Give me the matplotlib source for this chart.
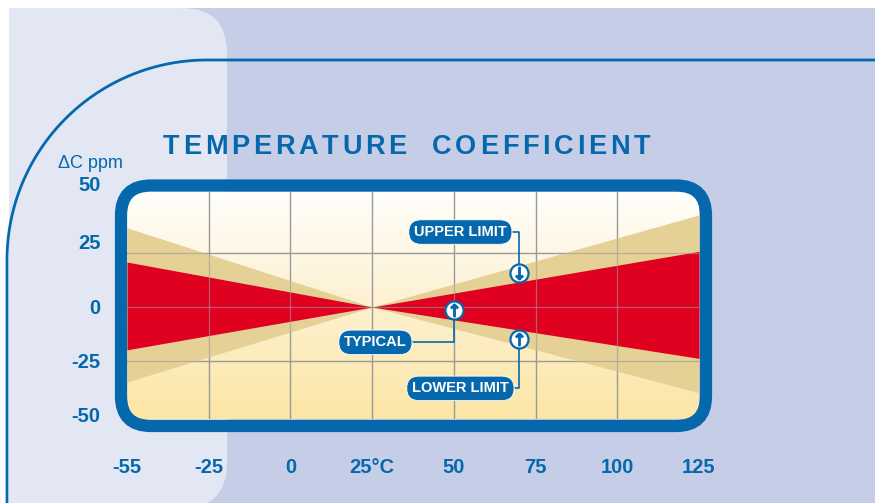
import numpy as np
import matplotlib
matplotlib.use('Agg')
import matplotlib.pyplot as plt
import matplotlib.transforms as mtrans
from matplotlib.patches import FancyBboxPatch, Rectangle, PathPatch
from matplotlib.path import Path
from matplotlib.colors import LinearSegmentedColormap

# axis data
temps = [-55, -25, 0, 25, 50, 75, 100, 125]
temp_labels = ['-55', '-25', '0', '25°C', '50', '75', '100', '125']
ppm_ticks = [50, 25, 0, -25, -50]
grid_ppm = [25, 0, -25]

# wedge edges at -55, 25 and 125 degC
band_temps = [-55, 25, 125]
limit_upper = [37, 0, 43]
limit_lower = [-35, 0, -40]
typical_upper = [21, 0, 26]
typical_lower = [-20, 0, -24]

# callouts
callout_names = ['UPPER LIMIT', 'TYPICAL', 'LOWER LIMIT']
callout_temp = [70, 50, 70]
callout_ppm = [16, -1.5, -15]
callout_dir = ['down', 'up', 'up']
label_temp = [52, 26, 52]
label_ppm = [35, -16.5, -38]

TITLE = 'TEMPERATURE COEFFICIENT'

BLUE = '#0568ad'
RED = '#e0001f'
TAN = '#e5d096'
LAV = '#c6cde6'
LAV_LIGHT = '#e3e6f3'
W, H = 875, 503

plt.rcParams['font.family'] = ['Liberation Sans', 'DejaVu Sans']


def tpos(t):
    return np.interp(t, temps, np.arange(len(temps)))


fig = plt.figure(figsize=(W / 100, H / 100), dpi=100, facecolor='white')

# background in pixel coordinates
bg = fig.add_axes([0, 0, 1, 1], zorder=0)
bg.set_xlim(0, W)
bg.set_ylim(H, 0)
bg.axis('off')
bg.add_patch(Rectangle((9, 8), W, H, fc=LAV, ec='none'))
clip = Rectangle((9, 8), W, H, fc='none', ec='none', transform=bg.transData)
panel = FancyBboxPatch((-80, 8), 307, 500, boxstyle='round,pad=0,rounding_size=45',
                       fc=LAV_LIGHT, ec='none')
bg.add_patch(panel)
panel.set_clip_path(clip)

th = np.linspace(np.pi, np.pi / 2, 60)
cx, cy, r = 207, 260, 200
verts = [(7, H + 5)] + list(zip(cx + r * np.cos(th), cy - r * np.sin(th))) + [(W + 5, 60)]
bg.add_patch(PathPatch(Path(verts), fc='none', ec=BLUE, lw=2.0))

# spaced-out title: letters placed one by one with even tracking
renderer = fig.canvas.get_renderer()
chars = []
for ch in TITLE:
    t = bg.text(0, 147, ch if ch != ' ' else 'I', fontsize=19.5, weight='bold', color=BLUE,
                ha='left', va='center')
    chars.append((ch, t, t.get_window_extent(renderer).width))
x0, x1, word_gap = 163, 650, 25
letters = [c for c in chars if c[0] != ' ']
n_gaps = len(letters) - 2
track = (x1 - x0 - word_gap - sum(c[2] for c in letters)) / n_gaps
x = x0
for ch, t, w in chars:
    if ch == ' ':
        t.remove()
        x += word_gap - track
        continue
    t.set_x(x)
    x += w + track

fig.text(90 / W, 1 - 163 / H, 'ΔC ppm', ha='center', va='center', fontsize=13, color=BLUE)

# plot area
ax = fig.add_axes([127 / W, 1 - 419 / H, 572 / W, 227 / H], zorder=2)
ylo, yhi = -52.3, 53.7
ax.set_xlim(0, 7)
ax.set_ylim(ylo, yhi)
cmap = LinearSegmentedColormap.from_list('bgc', ['#fce6a5', '#fdf1d0', '#fffefb'])
grad = np.linspace(0, 1, 256).reshape(-1, 1)
ax.imshow(grad, extent=[0, 7, ylo, yhi], origin='lower', aspect='auto', cmap=cmap, zorder=0)

for t in temps[1:-1]:
    ax.axvline(tpos(t), color='#9a9a9a', lw=0.9, zorder=1)
for p in grid_ppm:
    ax.axhline(p, color='#9a9a9a', lw=0.9, zorder=1)

bx = tpos(band_temps)
ax.fill_between(bx, limit_lower, limit_upper, color=TAN, lw=0, zorder=2)
ax.fill_between(bx, typical_lower, typical_upper, color=RED, lw=0, zorder=3)
for t in temps[1:-1]:
    ax.axvline(tpos(t), color='#9a9a9a', lw=0.9, zorder=4, alpha=0.6)
for p in grid_ppm:
    ax.axhline(p, color='#9a9a9a', lw=0.9, zorder=4, alpha=0.6)

ax.set_xticks(tpos(temps))
ax.set_xticklabels(temp_labels)
ax.set_yticks(ppm_ticks)
ax.set_yticklabels([str(v) for v in ppm_ticks])
ax.tick_params(axis='x', length=0, pad=28, labelsize=14.5, labelcolor=BLUE)
ax.tick_params(axis='y', length=0, pad=19, labelsize=14.5, labelcolor=BLUE)
for lab in ax.get_xticklabels() + ax.get_yticklabels():
    lab.set_fontweight('bold')
# the upper ppm labels sit a little higher than their gridlines in the original
for lab, dy in zip(ax.get_yticklabels()[:2], [16, 12]):
    lab.set_transform(lab.get_transform() + mtrans.ScaledTranslation(0, dy / 100, fig.dpi_scale_trans))
for s in ax.spines.values():
    s.set_visible(False)

for name, mt, mp, d, lt, lp in zip(callout_names, callout_temp, callout_ppm, callout_dir,
                                   label_temp, label_ppm):
    xm = tpos(mt)
    ax.annotate(name, xy=(xm, mp), xytext=(tpos(lt), lp), textcoords='data',
                ha='center', va='center', fontsize=10.5, weight='bold', color='white',
                zorder=6, annotation_clip=False,
                bbox=dict(boxstyle='round,pad=0.36,rounding_size=0.85', fc=BLUE, ec='white', lw=0.6),
                arrowprops=dict(arrowstyle='-', color=BLUE, lw=1.2, shrinkA=0, shrinkB=0,
                                connectionstyle='angle,angleA=0,angleB=90,rad=0',
                                relpos=(1, 0.5)))
    ax.plot(xm, mp, 'o', ms=13, mfc='white', mec=BLUE, mew=1.6, zorder=7)
    ax.plot(xm, mp, marker=r'$\downarrow$' if d == 'down' else r'$\uparrow$',
            ms=9, color=BLUE, zorder=8)

# frame on top
ov = fig.add_axes([0, 0, 1, 1], zorder=5)
ov.set_xlim(0, W)
ov.set_ylim(H, 0)
ov.axis('off')
ov.patch.set_alpha(0)
ov.add_patch(FancyBboxPatch((121, 185.5), 585, 240.5, boxstyle='round,pad=0,rounding_size=30',
                            fc='none', ec=BLUE, lw=8.8))

fig.savefig('out.png', dpi=100)
